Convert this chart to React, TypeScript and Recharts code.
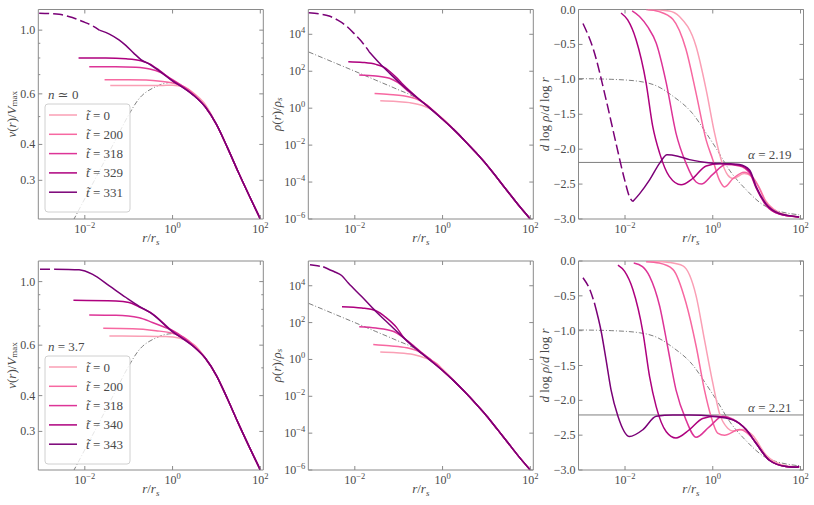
import { Line, LineChart, ReferenceArea, ReferenceLine, XAxis, YAxis } from 'recharts'

type Pt = [number, number]

const FONT = "'Liberation Serif', 'Times New Roman', 'DejaVu Serif', serif"
const TEXT = '#4a4a4a'
const FRAME = '#8a8a8a'
const GREY = '#7f7f7f'

// axes
const X_MIN = 0.00087
const X_MAX = 117
const xTicks = [0.01, 1, 100]
const velTicks = [0.3, 0.4, 0.5, 0.6, 0.7, 0.8, 0.9, 1.0]
const velLabelled = [0.3, 0.4, 0.6, 1.0]
const rhoTicks = [1e-6, 1e-4, 1e-2, 1, 1e2, 1e4]
const slopeTicks = [-3, -2.5, -2, -1.5, -1, -0.5, 0]

const topTimes = ['0', '200', '318', '329', '331']
const bottomTimes = ['0', '200', '318', '340', '343']
const colors = ['#fa9fb5', '#f768a1', '#dd3497', '#ae017e', '#7a0177']
const alphas = [2.19, 2.21]

// v(r)/Vmax
const velTail: Pt[] = [[1.78, 0.63], [3.16, 0.59], [5.6, 0.54], [10, 0.47], [17.8, 0.39], [31.6, 0.32], [56, 0.265], [100, 0.22]]
const velNfw: Pt[] = [[0.0055, 0.218], [0.0126, 0.277], [0.0214, 0.323], [0.051, 0.417], [0.103, 0.511], [0.16, 0.569], [0.417, 0.636], [1, 0.658], [1.78, 0.632]]
const vTop0: Pt[] = [[0.038, 0.641], [0.1, 0.641], [0.3, 0.641], [0.6, 0.642], [1, 0.643], [1.78, 0.635], [3.16, 0.6], [5.6, 0.55]]
const vTop200: Pt[] = [[0.0282, 0.672], [0.1, 0.672], [0.25, 0.67], [0.525, 0.664], [1, 0.655], [1.78, 0.637], [3.16, 0.597]]
const vTop318: Pt[] = [[0.0126, 0.746], [0.05, 0.746], [0.145, 0.742], [0.3, 0.732], [0.525, 0.713], [1, 0.672], [1.78, 0.635]]
const vTop329: Pt[] = [[0.0072, 0.8], [0.03, 0.8], [0.087, 0.795], [0.19, 0.783], [0.3, 0.763], [0.5, 0.724], [1, 0.667]]
const vTop331: Pt[] = [[0.0214, 1.0], [0.0363, 0.969], [0.06, 0.925], [0.087, 0.883], [0.13, 0.832], [0.19, 0.79], [0.3, 0.76], [0.5, 0.72], [1, 0.665]]
const vTop331Core: Pt[] = [[0.00091, 1.146], [0.0016, 1.142], [0.0026, 1.135], [0.0052, 1.106], [0.0089, 1.072], [0.015, 1.035], [0.0214, 1.0]]
const vBot0: Pt[] = [[0.0363, 0.646], [0.174, 0.645], [0.708, 0.643], [1.41, 0.635], [2.4, 0.615], [3.16, 0.6]]
const vBot200: Pt[] = [[0.0263, 0.687], [0.123, 0.685], [0.417, 0.674], [1, 0.66], [1.78, 0.64], [3.16, 0.597]]
const vBot318: Pt[] = [[0.0126, 0.765], [0.0513, 0.763], [0.174, 0.748], [0.347, 0.72], [0.708, 0.69], [1, 0.675], [1.78, 0.637]]
const vBot340: Pt[] = [[0.0055, 0.861], [0.0513, 0.856], [0.102, 0.845], [0.174, 0.815], [0.347, 0.772], [1, 0.67]]
const vBot343: Pt[] = [[0.002, 1.104], [0.0042, 1.103], [0.0074, 1.1], [0.0151, 1.06], [0.0363, 0.966], [0.087, 0.88], [0.174, 0.82], [0.347, 0.77], [1, 0.668]]
const vBot343Core: Pt[] = [[0.00095, 1.104], [0.0015, 1.104], [0.002, 1.104]]

// rho(r)/rho_s
const rhoTail: Pt[] = [[1, 0.25], [1.78, 0.071], [3.16, 0.018], [5.6, 0.0042], [10, 8.9e-4], [17.8, 1.6e-4], [31.6, 2.8e-5], [56, 5e-6], [100, 1e-6]]
const rhoNfw: Pt[] = [[0.00089, 1100], [0.003, 330], [0.01, 100], [0.03, 33], [0.089, 11], [0.257, 3.5], [0.6, 0.8]]
const rTop0: Pt[] = [[0.038, 2.5], [0.089, 2.3], [0.178, 2.0], [0.363, 1.35], [0.617, 0.72], [1, 0.28], [1.78, 0.075]]
const rTop200: Pt[] = [[0.0282, 6.2], [0.0617, 5.5], [0.126, 4.7], [0.257, 3.1], [0.437, 1.5], [0.7, 0.55]]
const rTop318: Pt[] = [[0.0126, 63], [0.0302, 56], [0.0617, 42], [0.095, 25], [0.178, 7.1], [0.363, 2.0], [0.525, 1.0]]
const rTop329: Pt[] = [[0.0071, 330], [0.0151, 300], [0.0302, 235], [0.0437, 175], [0.0617, 100], [0.089, 45], [0.126, 19], [0.257, 4.0], [0.525, 0.97]]
const rTop331: Pt[] = [[0.0214, 1120], [0.0363, 280], [0.0617, 79], [0.126, 15.8], [0.257, 3.8], [0.525, 0.95]]
const rTop331Core: Pt[] = [[0.00089, 1.48e5], [0.0016, 1.26e5], [0.0026, 9.8e4], [0.004, 6.0e4], [0.0062, 3.0e4], [0.01, 1.0e4], [0.0141, 4200], [0.0214, 1120]]
const rBot0: Pt[] = [[0.038, 2.5], [0.089, 2.3], [0.214, 1.86], [0.437, 1.1], [0.741, 0.59], [1, 0.3], [1.78, 0.076]]
const rBot200: Pt[] = [[0.0263, 6.5], [0.0617, 5.5], [0.151, 4.3], [0.302, 2.5], [0.525, 1.0], [0.8, 0.45]]
const rBot318: Pt[] = [[0.0126, 60], [0.0302, 51], [0.074, 34], [0.126, 16], [0.214, 5.8], [0.363, 2.0], [0.525, 1.0]]
const rBot340: Pt[] = [[0.0051, 725], [0.0145, 615], [0.0302, 440], [0.0513, 190], [0.089, 55], [0.126, 17], [0.257, 3.6], [0.525, 0.9]]
const rBot343: Pt[] = [[0.0019, 1.07e5], [0.0026, 7.6e4], [0.0035, 5.6e4], [0.005, 3.6e4], [0.0071, 1.4e4], [0.0145, 2500], [0.0302, 400], [0.0617, 79], [0.126, 15.8], [0.257, 3.5], [0.525, 0.89]]
const rBot343Core: Pt[] = [[0.00095, 1.38e5], [0.0014, 1.2e5], [0.0019, 1.07e5]]

// d log rho / d log r
const slopeNfw: Pt[] = [[0.00089, -0.99], [0.005, -1.0], [0.0214, -1.03], [0.055, -1.1], [0.123, -1.24], [0.347, -1.49], [0.708, -1.77], [1.2, -1.99], [2.4, -2.3], [5.75, -2.58], [16.2, -2.82], [93, -2.94]]
const sTop0: Pt[] = [[0.033, 0], [0.1, -0.02], [0.174, -0.1], [0.417, -0.53], [0.708, -1.15], [1.1, -1.77], [1.55, -2.15], [2.19, -2.37], [2.9, -2.42], [5.2, -2.35], [8, -2.4], [11.5, -2.55], [16.2, -2.74], [23.4, -2.85], [46.8, -2.94], [93, -2.97]]
const sTop200: Pt[] = [[0.0302, 0], [0.06, -0.03], [0.123, -0.14], [0.245, -0.57], [0.417, -1.2], [0.708, -1.87], [1, -2.15], [1.41, -2.44], [1.86, -2.54], [2.9, -2.42], [5.2, -2.33], [8, -2.4], [11.5, -2.56], [16.2, -2.76], [23.4, -2.86], [46.8, -2.95], [93, -2.97]]
const sTop318: Pt[] = [[0.0145, -0.02], [0.0214, -0.1], [0.033, -0.25], [0.0513, -0.48], [0.087, -1.05], [0.145, -1.77], [0.245, -2.2], [0.417, -2.47], [0.55, -2.5], [1, -2.36], [2.0, -2.22], [4.07, -2.24], [6.9, -2.34], [9.8, -2.56], [16.2, -2.8], [33.1, -2.93], [93, -2.97]]
const sTop329: Pt[] = [[0.0081, -0.05], [0.0115, -0.15], [0.0178, -0.43], [0.0302, -1.05], [0.0427, -1.67], [0.0617, -2.06], [0.102, -2.39], [0.19, -2.51], [0.347, -2.42], [0.708, -2.24], [1.41, -2.21], [4.07, -2.23], [6.9, -2.32], [9.8, -2.55], [16.2, -2.79], [33.1, -2.93], [93, -2.97]]
const sTop331: Pt[] = [[0.015, -2.75], [0.0214, -2.64], [0.0363, -2.44], [0.0617, -2.2], [0.091, -2.08], [0.16, -2.1], [0.295, -2.15], [1, -2.2], [2.5, -2.21], [4.07, -2.22], [6.9, -2.3], [9.8, -2.54], [16.2, -2.78], [33.1, -2.92], [93, -2.97]]
const sTop331Core: Pt[] = [[0.0011, -0.2], [0.0019, -0.57], [0.0037, -1.29], [0.0062, -1.91], [0.0098, -2.44], [0.0126, -2.68], [0.015, -2.75]]
const sBot0: Pt[] = [[0.0363, 0], [0.1, -0.02], [0.209, -0.07], [0.417, -0.5], [0.646, -1.13], [1.0, -1.75], [1.41, -2.18], [2.19, -2.4], [2.9, -2.44], [4.8, -2.42], [8, -2.5], [16.2, -2.78], [46.8, -2.94], [93, -2.96]]
const sBot200: Pt[] = [[0.0302, -0.01], [0.06, -0.03], [0.123, -0.12], [0.245, -0.6], [0.417, -1.22], [0.646, -1.85], [0.912, -2.23], [1.29, -2.47], [1.86, -2.5], [4.07, -2.42], [6.9, -2.5], [10, -2.62], [16.2, -2.81], [46.8, -2.95], [93, -2.96]]
const sBot318: Pt[] = [[0.0158, -0.03], [0.025, -0.08], [0.0363, -0.22], [0.0617, -0.65], [0.093, -1.22], [0.145, -1.85], [0.245, -2.28], [0.417, -2.53], [0.832, -2.38], [1.7, -2.23], [2.88, -2.27], [5.75, -2.42], [9.8, -2.62], [19.5, -2.86], [46.8, -2.95], [93, -2.96]]
const sBot340: Pt[] = [[0.0069, -0.06], [0.0098, -0.15], [0.0151, -0.41], [0.0257, -1.03], [0.0363, -1.66], [0.0513, -2.09], [0.087, -2.45], [0.145, -2.54], [0.295, -2.42], [0.589, -2.26], [1.2, -2.23], [2.88, -2.28], [5.75, -2.42], [9.8, -2.62], [19.5, -2.86], [46.8, -2.95], [93, -2.96]]
const sBot343: Pt[] = [[0.002, -0.6], [0.0029, -1.03], [0.0037, -1.42], [0.0048, -1.85], [0.0069, -2.23], [0.0126, -2.52], [0.0257, -2.42], [0.0513, -2.23], [0.123, -2.21], [0.295, -2.21], [1, -2.23], [2.88, -2.28], [5.75, -2.42], [9.8, -2.62], [19.5, -2.86], [46.8, -2.95], [80, -2.96], [93, -2.94]]
const sBot343Core: Pt[] = [[0.0011, -0.24], [0.0016, -0.42], [0.002, -0.6]]

type Kind = 'vel' | 'rho' | 'slope'
type Series = { color: string; pts: Pt[]; dashed?: boolean; nfw?: boolean }

const PANEL_W = 225
const COL_LEFT = [38.3, 308.3, 578.5]
const ROW_TOP = [9.5, 261]
const ROW_BOTTOM = [219, 470]

const toData = (pts: Pt[]) => pts.map(([r, y]) => ({ r, y }))

const nfw = (pts: Pt[]): Series => ({ color: GREY, pts, nfw: true })

const panels: { kind: Kind; series: Series[] }[][] = [
  [
    {
      kind: 'vel',
      series: [
        nfw(velNfw),
        { color: colors[0], pts: [...vTop0, ...velTail.slice(3)] },
        { color: colors[1], pts: [...vTop200, ...velTail.slice(2)] },
        { color: colors[2], pts: [...vTop318, ...velTail.slice(1)] },
        { color: colors[3], pts: [...vTop329, ...velTail] },
        { color: colors[4], pts: [...vTop331, ...velTail] },
        { color: colors[4], pts: vTop331Core, dashed: true },
      ],
    },
    {
      kind: 'rho',
      series: [
        nfw(rhoNfw),
        { color: colors[0], pts: [...rTop0, ...rhoTail.slice(2)] },
        { color: colors[1], pts: [...rTop200, ...rhoTail] },
        { color: colors[2], pts: [...rTop318, ...rhoTail] },
        { color: colors[3], pts: [...rTop329, ...rhoTail] },
        { color: colors[4], pts: [...rTop331, ...rhoTail] },
        { color: colors[4], pts: rTop331Core, dashed: true },
      ],
    },
    {
      kind: 'slope',
      series: [
        nfw(slopeNfw),
        { color: colors[0], pts: sTop0 },
        { color: colors[1], pts: sTop200 },
        { color: colors[2], pts: sTop318 },
        { color: colors[3], pts: sTop329 },
        { color: colors[4], pts: sTop331 },
        { color: colors[4], pts: sTop331Core, dashed: true },
      ],
    },
  ],
  [
    {
      kind: 'vel',
      series: [
        nfw(velNfw),
        { color: colors[0], pts: [...vBot0, ...velTail.slice(2)] },
        { color: colors[1], pts: [...vBot200, ...velTail.slice(2)] },
        { color: colors[2], pts: [...vBot318, ...velTail.slice(1)] },
        { color: colors[3], pts: [...vBot340, ...velTail] },
        { color: colors[4], pts: [...vBot343, ...velTail] },
        { color: colors[4], pts: vBot343Core, dashed: true },
      ],
    },
    {
      kind: 'rho',
      series: [
        nfw(rhoNfw),
        { color: colors[0], pts: [...rBot0, ...rhoTail.slice(2)] },
        { color: colors[1], pts: [...rBot200, ...rhoTail] },
        { color: colors[2], pts: [...rBot318, ...rhoTail] },
        { color: colors[3], pts: [...rBot340, ...rhoTail] },
        { color: colors[4], pts: [...rBot343, ...rhoTail] },
        { color: colors[4], pts: rBot343Core, dashed: true },
      ],
    },
    {
      kind: 'slope',
      series: [
        nfw(slopeNfw),
        { color: colors[0], pts: sBot0 },
        { color: colors[1], pts: sBot200 },
        { color: colors[2], pts: sBot318 },
        { color: colors[3], pts: sBot340 },
        { color: colors[4], pts: sBot343 },
        { color: colors[4], pts: sBot343Core, dashed: true },
      ],
    },
  ],
]

const minus = (s: string) => s.replace('-', '\u2212')
const textStyle = { fontFamily: FONT }

function Pow({ v }: { v: number }) {
  const e = Math.round(Math.log10(v))
  return (
    <>
      10
      <tspan dy={-5} fontSize={8.5}>
        {minus(String(e))}
      </tspan>
    </>
  )
}

function yLabel(kind: Kind, v: number) {
  if (kind === 'rho') return <Pow v={v} />
  if (kind === 'vel') return velLabelled.includes(v) ? v.toFixed(1) : null
  return v === 0 ? '0.0' : minus(v.toFixed(1))
}

function Panel({ row, col, kind, series }: { row: number; col: number; kind: Kind; series: Series[] }) {
  const left = COL_LEFT[col]
  const right = left + PANEL_W
  const top = ROW_TOP[row]
  const bottom = ROW_BOTTOM[row]
  const yDomain = kind === 'vel' ? [0.22, 1.18] : kind === 'rho' ? [1e-6, 2.2e5] : [-3, 0]
  const yTicks = kind === 'vel' ? velTicks : kind === 'rho' ? rhoTicks : slopeTicks
  const alpha = kind === 'slope' ? alphas[row] : null

  const xTick = (p: any) => {
    const x = p.x
    return (
      <g>
        <line x1={x} x2={x} y1={bottom} y2={bottom - 4} stroke={FRAME} />
        <line x1={x} x2={x} y1={top} y2={top + 4} stroke={FRAME} />
        <text x={x} y={bottom + 14} textAnchor="middle" fontSize={12} fill={TEXT} style={textStyle}>
          <Pow v={p.payload.value} />
        </text>
      </g>
    )
  }

  const yTick = (p: any) => {
    const y = p.y
    const label = yLabel(kind, p.payload.value)
    const len = kind === 'vel' && !label ? 2 : 4
    return (
      <g>
        <line x1={left} x2={left + len} y1={y} y2={y} stroke={FRAME} />
        <line x1={right} x2={right - len} y1={y} y2={y} stroke={FRAME} />
        {label != null && (
          <text x={left - 3} y={y + 4} textAnchor="end" fontSize={12} fill={TEXT} style={textStyle}>
            {label}
          </text>
        )}
      </g>
    )
  }

  return (
    <div style={{ position: 'absolute', left: 0, top: 0 }}>
      <LineChart
        width={814}
        height={505}
        margin={{ left: left - 30, top, right: 814 - right, bottom: 505 - bottom - 30 }}
      >
        <XAxis
          dataKey="r"
          type="number"
          scale="log"
          domain={[X_MIN, X_MAX]}
          allowDataOverflow
          ticks={xTicks}
          interval={0}
          height={30}
          axisLine={false}
          tickLine={false}
          tick={xTick}
        />
        <YAxis
          type="number"
          scale={kind === 'slope' ? 'linear' : 'log'}
          domain={yDomain}
          allowDataOverflow
          ticks={yTicks}
          interval={0}
          width={30}
          axisLine={false}
          tickLine={false}
          tick={yTick}
        />
        {alpha != null && (
          <ReferenceLine
            y={-alpha}
            stroke={GREY}
            strokeWidth={1}
            label={{
              content: (lp: any) => (
                <text
                  x={lp.viewBox.x + lp.viewBox.width - 12}
                  y={lp.viewBox.y - 3}
                  textAnchor="end"
                  fontSize={13}
                  fill={TEXT}
                  style={textStyle}
                >
                  <tspan fontStyle="italic">α</tspan> = {alpha.toFixed(2)}
                </text>
              ),
            }}
          />
        )}
        {series.map((s, i) => (
          <Line
            key={i}
            data={toData(s.pts)}
            dataKey="y"
            type="monotone"
            stroke={s.color}
            strokeWidth={s.nfw ? 1 : 1.5}
            strokeDasharray={s.nfw ? '5 2 1 2' : s.dashed ? '10 4' : undefined}
            dot={false}
            activeDot={false}
            isAnimationActive={false}
          />
        ))}
        <ReferenceArea
          x1={X_MIN}
          x2={X_MAX}
          y1={yDomain[0]}
          y2={yDomain[1]}
          fill="none"
          stroke={FRAME}
          strokeWidth={1}
          ifOverflow="visible"
        />
      </LineChart>
    </div>
  )
}

function Overlay() {
  const rows = [0, 1]
  return (
    <svg
      width={814}
      height={505}
      style={{ position: 'absolute', left: 0, top: 0, pointerEvents: 'none', fontFamily: FONT }}
      fill={TEXT}
    >
      {rows.map((row) => {
        const top = ROW_TOP[row]
        const bottom = ROW_BOTTOM[row]
        const cy = (top + bottom) / 2
        const times = row === 0 ? topTimes : bottomTimes
        const boxTop = row === 0 ? 104 : 356
        return (
          <g key={row}>
            <text transform={`rotate(-90 11 ${cy})`} x={11} y={cy} textAnchor="middle" dominantBaseline="central" fontSize={13}>
              <tspan fontStyle="italic">v</tspan>(<tspan fontStyle="italic">r</tspan>)/<tspan fontStyle="italic">V</tspan>
              <tspan fontSize={9} dy={3}>max</tspan>
            </text>
            <text transform={`rotate(-90 276 ${cy})`} x={276} y={cy} textAnchor="middle" dominantBaseline="central" fontSize={13}>
              <tspan fontStyle="italic">ρ</tspan>(<tspan fontStyle="italic">r</tspan>)/<tspan fontStyle="italic">ρ</tspan>
              <tspan fontSize={9} dy={3} fontStyle="italic">s</tspan>
            </text>
            <text transform={`rotate(-90 544 ${cy})`} x={544} y={cy} textAnchor="middle" dominantBaseline="central" fontSize={13}>
              <tspan fontStyle="italic">d</tspan> log <tspan fontStyle="italic">ρ</tspan>/<tspan fontStyle="italic">d</tspan> log{' '}
              <tspan fontStyle="italic">r</tspan>
            </text>
            {COL_LEFT.map((l) => (
              <text key={l} x={l + PANEL_W / 2} y={bottom + 23} textAnchor="middle" fontSize={13}>
                <tspan fontStyle="italic">r</tspan>/<tspan fontStyle="italic">r</tspan>
                <tspan fontSize={9} dy={3} fontStyle="italic">s</tspan>
              </text>
            ))}
            <text x={48} y={boxTop - 5} fontSize={13}>
              <tspan fontStyle="italic">n</tspan> {row === 0 ? '≃ 0' : '= 3.7'}
            </text>
            <rect x={45} y={boxTop} width={85} height={108} rx={3} fill="#fff" fillOpacity={0.8} stroke="#d0d0d0" />
            {times.map((t, i) => {
              const y = boxTop + 11 + i * 19.3
              return (
                <g key={t}>
                  <line x1={49} x2={77} y1={y} y2={y} stroke={colors[i]} strokeWidth={1.5} />
                  <text x={86} y={y + 4.5} fontSize={13}>
                    <tspan fontStyle="italic">t̃</tspan> = {t}
                  </text>
                </g>
              )
            })}
          </g>
        )
      })}
    </svg>
  )
}

export default function App() {
  return (
    <div style={{ position: 'absolute', left: 0, top: 0, width: 814, height: 505, background: '#fff' }}>
      {panels.map((rowPanels, row) =>
        rowPanels.map((p, col) => <Panel key={`${row}-${col}`} row={row} col={col} kind={p.kind} series={p.series} />),
      )}
      <Overlay />
    </div>
  )
}
